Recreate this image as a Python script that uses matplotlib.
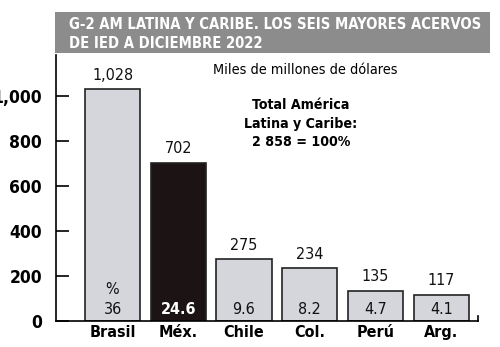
import matplotlib.pyplot as plt
from matplotlib.patches import Rectangle

paises = ["Brasil", "Méx.", "Chile", "Col.", "Perú", "Arg."]
acervos = [1028, 702, 275, 234, 135, 117]
etiquetas = ["1,028", "702", "275", "234", "135", "117"]
porcentajes = ["36", "24.6", "9.6", "8.2", "4.7", "4.1"]
yticks = [0, 200, 400, 600, 800, 1000]
ytick_labels = ["0", "200", "400", "600", "800", "1,000"]

plt.rcParams["font.family"] = ["DejaVu Sans"]
plt.rcParams["font.stretch"] = "condensed"

gris = "#d5d6dc"
oscuro = "#1c1414"
colores = [oscuro if p == "Méx." else gris for p in paises]

fig = plt.figure(figsize=(5, 3.47), dpi=100)
ax = fig.add_axes([0.112, 0.075, 0.844, 0.7665])

x = range(len(paises))
ax.bar(x, acervos, width=0.84, color=colores, edgecolor="#222222", linewidth=1.2, zorder=2)

for i, v in enumerate(acervos):
    ax.text(i, v + 28, etiquetas[i], ha="center", va="bottom", fontsize=11.5, color="#111111")
    blanco = paises[i] == "Méx."
    ax.text(i, 50, porcentajes[i], ha="center", va="center", fontsize=11.5,
            color="white" if blanco else "#111111", fontweight="bold" if blanco else "normal")
ax.text(0, 140, "%", ha="center", va="center", fontsize=11.5, color="#111111")

ax.set_xlim(-0.86, 5.56)
ax.set_ylim(0, 1180)
ax.set_xticks(list(x))
ax.set_xticklabels(paises, fontsize=11.5, fontweight="bold")
ax.set_yticks(yticks)
ax.set_yticklabels(ytick_labels, fontsize=12.5, fontweight="bold")
ax.tick_params(axis="y", direction="in", length=9, width=1.2, pad=10)
ax.tick_params(axis="x", length=0, pad=3)
for s in ["top", "right"]:
    ax.spines[s].set_visible(False)
ax.spines["left"].set_linewidth(1.2)
ax.spines["bottom"].set_linewidth(1.2)
ax.plot([5.56, 5.56], [0, 22], color="black", lw=1.2, clip_on=False)

ax.text(0.59, 0.97, "Miles de millones de dólares", transform=ax.transAxes,
        ha="center", va="top", fontsize=10.4)
ax.text(0.58, 0.84, "Total América\nLatina y Caribe:\n2 858 = 100%", transform=ax.transAxes,
        ha="center", va="top", fontsize=10.2, fontweight="bold", linespacing=1.45)

# recuadro del título
fig.patches.append(Rectangle((0.11, 1 - 53 / 347), 0.87, 41 / 347, transform=fig.transFigure,
                             facecolor="#8c8c8c", edgecolor="none"))
fig.text(0.138, 1 - 34 / 347, "G-2 AM LATINA Y CARIBE. LOS SEIS MAYORES ACERVOS\nDE IED A DICIEMBRE 2022",
         ha="left", va="center", fontsize=10.6, fontweight="bold", color="white", linespacing=1.3)

fig.savefig("out.png", dpi=100)
